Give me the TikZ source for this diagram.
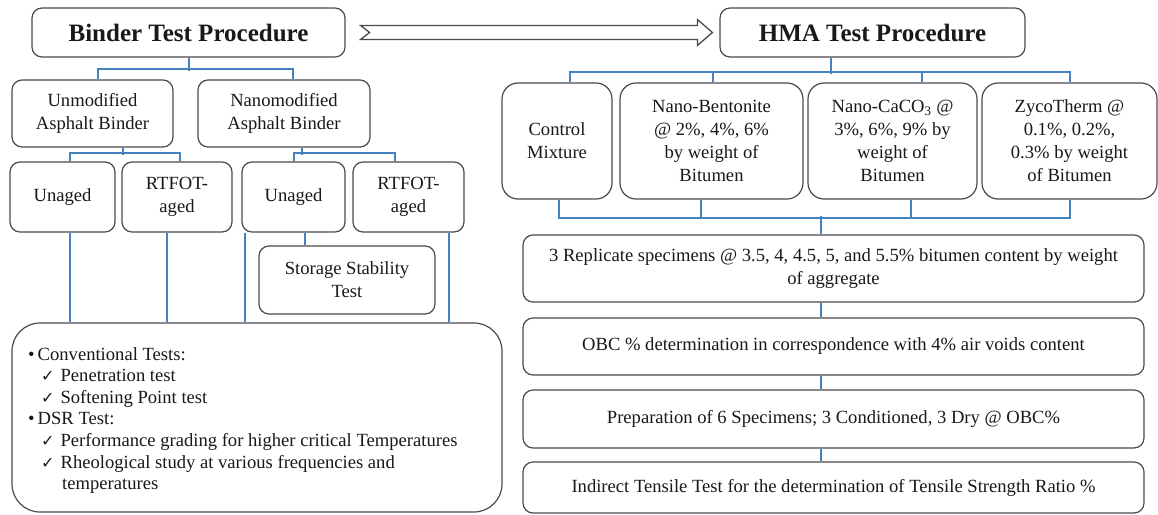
\documentclass[tikz,border=0pt]{standalone}
\usepackage{fontspec}
\setmainfont{Liberation Serif}
\newfontfamily\symfont{DejaVu Sans}
\usetikzlibrary{calc}
\definecolor{connblue}{RGB}{70,130,190}
\definecolor{edgegray}{RGB}{75,75,75}
\definecolor{txt}{RGB}{25,25,25}
\newcommand{\chk}{{\symfont\fontsize{16}{16}\selectfont ✓}}
\begin{document}
\begin{tikzpicture}[x=1pt,y=-1pt,
  box/.style={draw=edgegray, line width=1.2pt, rounded corners=10pt, fill=white,
    inner sep=2pt, align=center, text=txt, font=\fontsize{18.6}{23}\selectfont},
  titlebox/.style={box, font=\fontsize{25}{30}\selectfont\bfseries},
  bigbox/.style={box, rounded corners=16pt},
  link/.style={draw=connblue, line width=2pt},
  hollow/.style={draw=edgegray, line width=1.3pt, fill=white}]
\useasboundingbox (0,0) rectangle (1158,514);

% ---------- nodes ----------
\node[titlebox, minimum width=313pt, minimum height=49pt] (bin) at (188.5,32.5) {Binder Test Procedure};
\node[titlebox, minimum width=305pt, minimum height=49pt] (hma) at (872.5,32.5) {HMA Test Procedure};

\node[box, minimum width=161pt, minimum height=67pt] (unmod) at (92.5,113.5) {Unmodified\\Asphalt Binder};
\node[box, minimum width=172pt, minimum height=67pt] (nano) at (284,113.5) {Nanomodified\\Asphalt Binder};

\node[box, minimum width=105pt, minimum height=70pt] (ua1) at (62.5,197) {Unaged};
\node[box, minimum width=110pt, minimum height=70pt] (rt1) at (177,197) {RTFOT-\\aged};
\node[box, minimum width=103pt, minimum height=70pt] (ua2) at (293.5,197) {Unaged};
\node[box, minimum width=111pt, minimum height=70pt] (rt2) at (408.5,197) {RTFOT-\\aged};
\node[box, minimum width=176pt, minimum height=68pt] (sst) at (347,280) {Storage Stability\\Test};

\node[box, rounded corners=28pt, minimum width=490pt, minimum height=189pt] (big) at (257,417.5) {};
\node[anchor=north west, align=left, inner sep=0pt, text=txt,
  font=\fontsize{18.6}{21.6}\selectfont] (bl) at (28,347) {%
\textbullet\hspace{3pt}Conventional Tests:\\
\hspace*{13pt}\chk\hspace{6pt}Penetration test\\
\hspace*{13pt}\chk\hspace{6pt}Softening Point test\\
\textbullet\hspace{3pt}DSR Test:\\
\hspace*{13pt}\chk\hspace{6pt}Performance grading for higher critical Temperatures\\
\hspace*{13pt}\chk\hspace{6pt}Rheological study at various frequencies and\\
\hspace*{34pt}temperatures};

\node[bigbox, minimum width=110pt, minimum height=116pt] (ctrl) at (557,141) {Control\\Mixture};
\node[bigbox, minimum width=183pt, minimum height=116pt] (bent) at (711.5,141) {Nano-Bentonite\\@ 2\%, 4\%, 6\%\\by weight of\\Bitumen};
\node[bigbox, minimum width=169pt, minimum height=116pt] (caco) at (892.5,141) {Nano-CaCO\textsubscript{3} @\\3\%, 6\%, 9\% by\\weight of\\Bitumen};
\node[bigbox, minimum width=175pt, minimum height=116pt] (zyco) at (1069.5,141) {ZycoTherm @\\0.1\%, 0.2\%,\\0.3\% by weight\\of Bitumen};

\node[box, minimum width=621pt, minimum height=67pt] (rep) at (833.5,268.5) {3 Replicate specimens @ 3.5, 4, 4.5, 5, and 5.5\% bitumen content by weight\\of aggregate};
\node[box, minimum width=621pt, minimum height=57pt] (obc) at (833.5,346.5) {OBC \% determination in correspondence with 4\% air voids content};
\node[box, minimum width=621pt, minimum height=58pt] (prep) at (833.5,419) {Preparation of 6 Specimens; 3 Conditioned, 3 Dry @ OBC\%};
\node[box, minimum width=621pt, minimum height=51pt] (itt) at (833.5,487.5) {Indirect Tensile Test for the determination of Tensile Strength Ratio \%};

% ---------- hollow arrow ----------
\coordinate (atail) at ([xshift=15pt]bin.east);
\coordinate (ahead) at ([xshift=-7pt]hma.west);
\draw[hollow] (atail) ++(0,-7) -- ($(ahead)+(-15,-7)$) -- ($(ahead)+(-15,-13)$) -- (ahead)
  -- ($(ahead)+(-15,13)$) -- ($(ahead)+(-15,7)$) -- ($(atail)+(0,7)$) -- ($(atail)+(9,0)$) -- cycle;

% ---------- left connectors ----------
\draw[link] (bin.south) -- ++(0,13);
\draw[link] ([xshift=5.5pt]unmod.north) -- ++(0,-10) -| ([xshift=9pt]nano.north);

\draw[link] ([xshift=30.5pt]unmod.south) -- ++(0,7);
\draw[link] ([xshift=7.5pt]ua1.north) -- ++(0,-8) -| ([xshift=3pt]rt1.north);

\draw[link] ([xshift=18pt]nano.south) -- ++(0,7);
\draw[link] (ua2.north) -- ++(0,-8) -| ([xshift=-13.5pt]rt2.north);

\coordinate (d1) at ([xshift=7.5pt]ua1.south);
\coordinate (d2) at ([xshift=-10pt]rt1.south);
\coordinate (d3) at ([xshift=-48.5pt]ua2.south);
\coordinate (d4) at ([xshift=40.5pt]rt2.south);
\coordinate (d5) at ([xshift=11.5pt]ua2.south);
\draw[link] (d1) -- (d1 |- big.north);
\draw[link] (d2) -- (d2 |- big.north);
\draw[link] (d3) -- (d3 |- big.north);
\draw[link] (d4) -- (d4 |- big.north);
\draw[link] (d5) -- (d5 |- sst.north);

% ---------- right connectors ----------
\draw[link] ([xshift=-41.5pt]hma.south) -- ++(0,16);
\draw[link] ([xshift=13pt]ctrl.north) -- ++(0,-10) -| (zyco.north);
\draw[link] ([xshift=1.5pt]bent.north) -- ++(0,-10);
\draw[link] ([xshift=29.5pt]caco.north) -- ++(0,-10);

\draw[link] ([xshift=2pt]ctrl.south) -- ++(0,18) -| (zyco.south);
\draw[link] ([xshift=-10.5pt]bent.south) -- ++(0,18);
\draw[link] ([xshift=18.5pt]caco.south) -- ++(0,18);
\coordinate (r0) at ([xshift=-12.5pt]rep.north);
\draw[link] (r0) -- ++(0,-18);
\coordinate (r1) at ([xshift=-12.5pt]rep.south);
\coordinate (r2) at ([xshift=-12.5pt]obc.south);
\coordinate (r3) at ([xshift=-12.5pt]prep.south);
\draw[link, line width=1.4pt] (r1) -- (r1 |- obc.north);
\draw[link, line width=1.4pt] (r2) -- (r2 |- prep.north);
\draw[link, line width=1.4pt] (r3) -- (r3 |- itt.north);
\end{tikzpicture}
\end{document}
